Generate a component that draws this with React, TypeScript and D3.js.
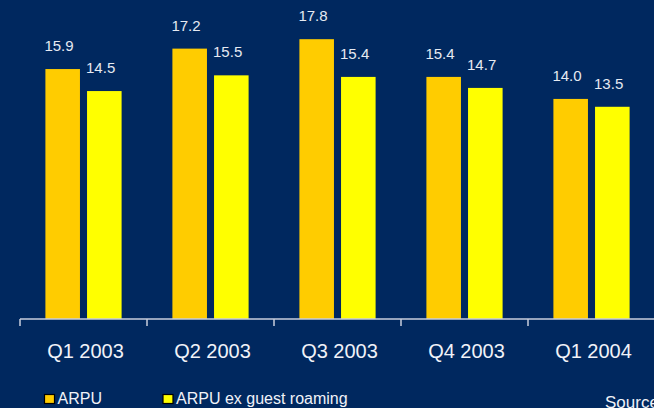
import React from "react";
import * as d3 from "d3";

const categories = ["Q1 2003", "Q2 2003", "Q3 2003", "Q4 2003", "Q1 2004"];
const seriesNames = ["ARPU", "ARPU ex guest roaming"];
const arpu = [15.9, 17.2, 17.8, 15.4, 14.0];
const arpuEx = [14.5, 15.5, 15.4, 14.7, 13.5];
const colors = ["#FFCC00", "#FFFF00"];

const W = 654;
const H = 408;
const BG = "#00285F";
const AXIS_Y = 319;

export default function App() {
  const x = d3.scaleBand<string>().domain(categories).range([20, 655]).paddingInner(0.4).paddingOuter(0.2);
  const xOuter = d3.scaleBand<string>().domain(categories).range([20, 655]).padding(0);
  const inner = d3.scaleBand<string>().domain(seriesNames).range([0, x.bandwidth()]).paddingInner(0.17);
  const y = d3.scaleLinear().domain([0, 10]).range([AXIS_Y, AXIS_Y - 157.2]);
  const series = [arpu, arpuEx];
  const font = "'Liberation Sans', Arial, sans-serif";

  return (
    <svg width={W} height={H} style={{ position: "absolute", left: 0, top: 0, background: BG }} fontFamily={font}>
      <rect x={0} y={0} width={W} height={H} fill={BG} />
      {categories.map((c, i) => (
        <g key={c}>
          {series.map((s, j) => {
            const bx = (x(c) as number) + (inner(seriesNames[j]) as number);
            const by = y(s[i]);
            return (
              <g key={j}>
                <rect x={bx} y={by} width={inner.bandwidth()} height={AXIS_Y - by} fill={colors[j]} />
                <text x={bx - 1} y={by - 18} fill="#E6EAF2" fontSize={15}>
                  {s[i].toFixed(1)}
                </text>
              </g>
            );
          })}
        </g>
      ))}
      <line x1={20} x2={W} y1={AXIS_Y} y2={AXIS_Y} stroke="#C8CEDC" strokeWidth={1.5} />
      {categories.map((c) => (
        <line key={c} x1={xOuter(c)} x2={xOuter(c)} y1={AXIS_Y} y2={AXIS_Y + 7} stroke="#C8CEDC" strokeWidth={1.5} />
      ))}
      {categories.map((c) => (
        <text
          key={c}
          x={(xOuter(c) as number) + xOuter.bandwidth() / 2 + 2}
          y={358}
          fill="#F0F2F8"
          fontSize={20}
          textAnchor="middle"
        >
          {c}
        </text>
      ))}
      {seriesNames.map((n, j) => {
        const lx = j === 0 ? 44 : 162.5;
        return (
          <g key={n}>
            <rect x={lx + 0.5} y={394.5} width={10} height={9} fill={colors[j]} stroke="#000" strokeWidth={1.2} />
            <text x={lx + 13.5} y={403.5} fill="#F0F2F8" fontSize={16}>
              {n}
            </text>
          </g>
        );
      })}
      <text x={605} y={408} fill="#F0F2F8" fontSize={17}>
        Source: company data
      </text>
    </svg>
  );
}
